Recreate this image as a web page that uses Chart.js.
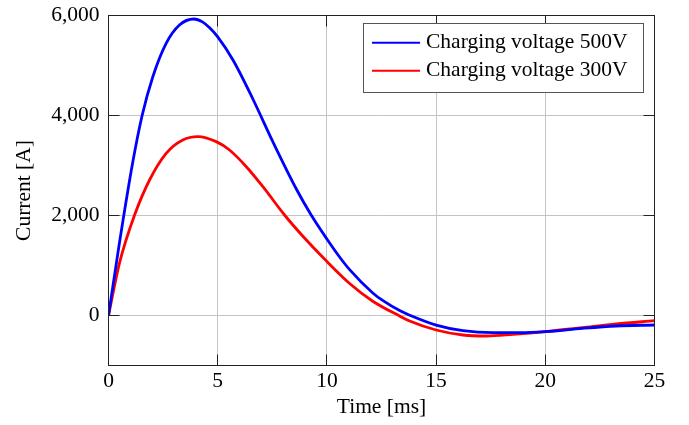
<!DOCTYPE html>
<html><head><meta charset="utf-8">
<script src="https://cdn.jsdelivr.net/npm/chart.js@4/dist/chart.umd.min.js"></script>
<style>html,body{margin:0;padding:0;background:#fff}#wrap{width:689px;height:425px}</style>
</head><body><div id="wrap"><canvas id="c" width="689" height="425"></canvas></div>
<script>
const seriesLabels = ['Charging voltage 500V', 'Charging voltage 300V'];
const seriesColors = ['#0000ff', '#ff0000'];
const time500 = [0, 0.5, 1.1, 1.54, 2.03, 2.64, 3.25, 3.91, 4.3, 4.63, 5.0, 5.7, 6.61, 7.53, 8.6, 9.28, 10.0, 10.58, 11.04, 12.1, 12.57, 13.33, 13.79, 15, 16.23, 17.6, 18.82, 20, 21.7, 23.25, 25];
const current500 = [0, 1450, 3040, 4000, 4776, 5443, 5810, 5930, 5872, 5753, 5572, 5110, 4330, 3470, 2530, 2010, 1530, 1170, 917, 451, 296, 98, 6, -192, -303, -343, -343, -323, -257, -210, -190];
const time300 = [0, 0.5, 1.19, 1.88, 2.64, 3.4, 4.09, 4.93, 5.54, 6.31, 7.07, 8.06, 8.9, 9.9, 11.04, 12.1, 13.33, 13.79, 15, 16.23, 17.3, 18.52, 20, 21.7, 23.25, 25];
const current300 = [0, 1044, 2004, 2710, 3243, 3510, 3577, 3477, 3310, 2976, 2576, 2010, 1585, 1124, 640, 285, -10, -110, -290, -390, -410, -377, -323, -243, -170, -103];
const xTicks = [0, 5, 10, 15, 20, 25];
const yTicks = [0, 2000, 4000, 6000];
const xLabel = 'Time [ms]';
const yLabel = 'Current [A]';

const FONT = {family: '"Liberation Serif", "DejaVu Serif", serif', size: 21.5};
const toXY = (ts, vs) => ts.map((t, i) => ({x: t, y: vs[i]}));

const frame = {
  id: 'frame',
  afterDatasetsDraw(chart) {
    const {ctx, chartArea: a, scales: {x, y}} = chart;
    const L = 11;
    ctx.save();
    ctx.strokeStyle = '#222';
    ctx.lineWidth = 1;
    ctx.strokeRect(a.left, a.top, a.right - a.left, a.bottom - a.top);
    ctx.beginPath();
    xTicks.forEach(v => {
      const p = Math.round(x.getPixelForValue(v) - 0.5) + 0.5;
      ctx.moveTo(p, a.bottom); ctx.lineTo(p, a.bottom - L);
      ctx.moveTo(p, a.top); ctx.lineTo(p, a.top + L);
    });
    yTicks.forEach(v => {
      const p = Math.round(y.getPixelForValue(v) - 0.5) + 0.5;
      ctx.moveTo(a.left, p); ctx.lineTo(a.left + L, p);
      ctx.moveTo(a.right, p); ctx.lineTo(a.right - L, p);
    });
    ctx.stroke();
    ctx.restore();
  }
};

const boxLegend = {
  id: 'boxLegend',
  afterDraw(chart) {
    const {ctx} = chart;
    const x0 = 363.5, y0 = 23.5, x1 = 643.5, y1 = 92.5;
    ctx.save();
    ctx.fillStyle = '#fff';
    ctx.fillRect(x0, y0, x1 - x0, y1 - y0);
    ctx.strokeStyle = '#555';
    ctx.lineWidth = 1;
    ctx.strokeRect(x0, y0, x1 - x0, y1 - y0);
    ctx.font = `${FONT.size}px ${FONT.family}`;
    ctx.textBaseline = 'middle';
    ctx.textAlign = 'left';
    chart.data.datasets.forEach((ds, i) => {
      const yy = 42.7 + i * 28;
      ctx.strokeStyle = ds.borderColor;
      ctx.lineWidth = 2;
      ctx.beginPath(); ctx.moveTo(372, yy); ctx.lineTo(420, yy); ctx.stroke();
      ctx.fillStyle = '#000';
      ctx.fillText(ds.label, 426, yy);
    });
    ctx.restore();
  }
};

new Chart(document.getElementById('c'), {
  type: 'line',
  data: {
    datasets: [
      {label: seriesLabels[0], data: toXY(time500, current500), borderColor: seriesColors[0], borderWidth: 2.8, pointRadius: 0, cubicInterpolationMode: 'monotone', fill: false},
      {label: seriesLabels[1], data: toXY(time300, current300), borderColor: seriesColors[1], borderWidth: 2.8, pointRadius: 0, cubicInterpolationMode: 'monotone', fill: false}
    ]
  },
  options: {
    responsive: false,
    animation: false,
    devicePixelRatio: 1,
    layout: {padding: {left: 0, right: 34.5, top: 15.5, bottom: 0}},
    plugins: {legend: {display: false}, tooltip: {enabled: false}},
    scales: {
      x: {
        type: 'linear', min: 0, max: 25,
        afterBuildTicks: s => { s.ticks = xTicks.map(v => ({value: v})); },
        afterFit: s => { s.height = 59.5; s.paddingLeft = 0; s.paddingRight = 0; },
        ticks: {font: FONT, color: '#000', padding: 3, maxRotation: 0, autoSkip: false},
        grid: {color: '#c4c4c4', lineWidth: 1, drawTicks: false},
        border: {display: false},
        title: {display: true, text: xLabel, font: FONT, color: '#000', padding: {top: 0, bottom: 4.4}}
      },
      y: {
        type: 'linear', min: -1000, max: 6000,
        afterBuildTicks: s => { s.ticks = yTicks.map(v => ({value: v})); },
        afterFit: s => { s.width = 108.5; s.paddingTop = 0; s.paddingBottom = 0; },
        ticks: {font: FONT, color: '#000', padding: 9, callback: v => v.toLocaleString('en-US')},
        grid: {color: '#c4c4c4', lineWidth: 1, drawTicks: false},
        border: {display: false},
        title: {display: true, text: yLabel, font: FONT, color: '#000', padding: {top: 11.9, bottom: 0}}
      }
    }
  },
  plugins: [frame, boxLegend]
});
</script></body></html>
